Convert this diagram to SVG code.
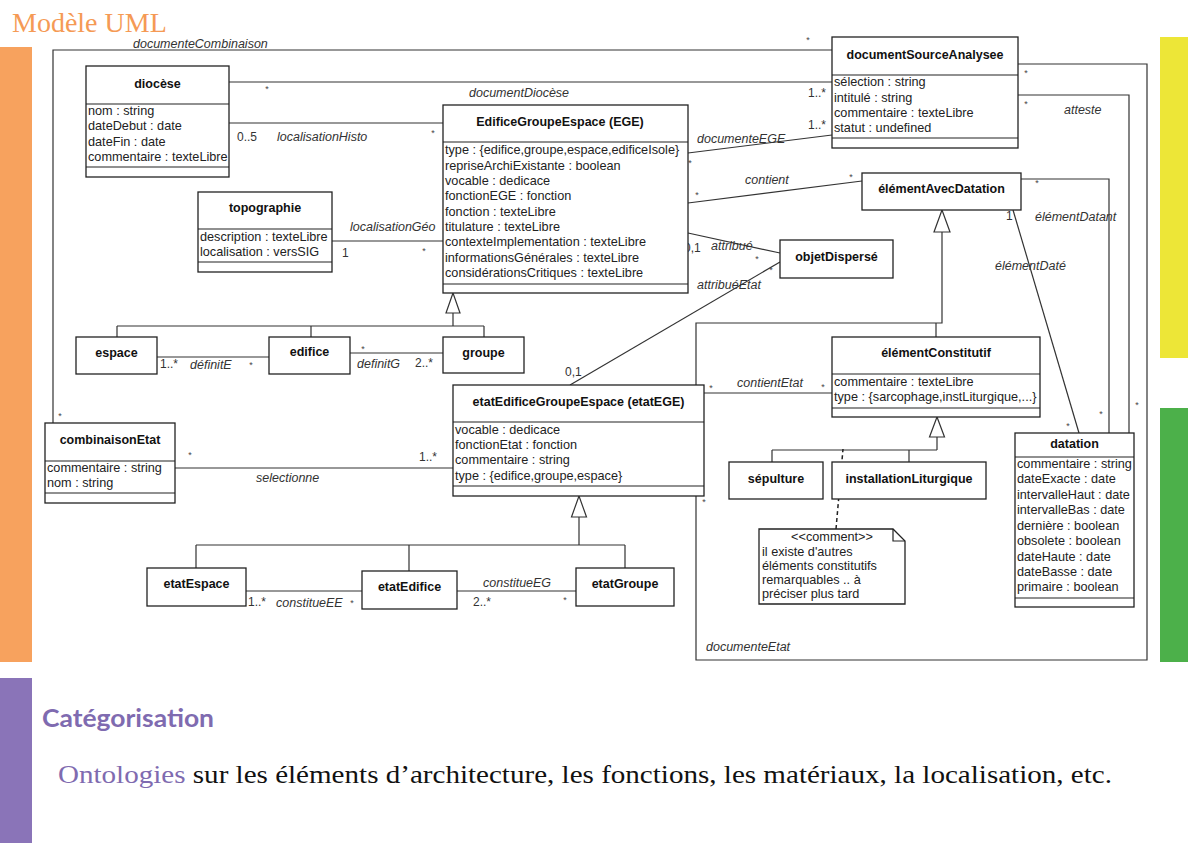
<svg xmlns="http://www.w3.org/2000/svg" width="1188" height="843" viewBox="0 0 1188 843">
<style>
.box{fill:#fff;stroke:#222;stroke-width:1.3}
.sep{stroke:#222;stroke-width:1.2;fill:none}
.ln{fill:none;stroke:#333;stroke-width:1.2}
.tri{fill:#fff;stroke:#333;stroke-width:1.2}
.nm{font-family:"Liberation Sans",Arial,sans-serif;font-weight:bold;font-size:12.5px;text-anchor:middle;fill:#111}
.at{font-family:"Liberation Sans",Arial,sans-serif;font-size:12.7px;fill:#222}
.lb{font-family:"Liberation Sans",Arial,sans-serif;font-style:italic;font-size:12.5px;fill:#333}
.mu{font-family:"Liberation Sans",Arial,sans-serif;font-size:12px;fill:#333}
.st{font-family:"Liberation Sans",Arial,sans-serif;font-size:9px;fill:#444;text-anchor:middle}
</style>
<rect width="1188" height="843" fill="#fff"/>
<!-- side bars -->
<rect x="0" y="47" width="32" height="615" fill="#F7A25E"/>
<rect x="0" y="678" width="32" height="165" fill="#8A74B8"/>
<rect x="1160" y="37" width="28" height="321" fill="#EDE637"/>
<rect x="1160" y="408" width="28" height="254" fill="#4CB04A"/>
<text x="12" y="32" font-family="Liberation Serif,Times New Roman,serif" font-size="28" fill="#F59A55">Modèle UML</text>

<g id="connectors">
  <!-- documenteCombinaison -->
  <path class="ln" d="M53 423 V50 H832"/>
  <!-- documentDiocese -->
  <path class="ln" d="M229 82 H832"/>
  <!-- localisationHisto -->
  <path class="ln" d="M229 123 H443"/>
  <!-- documenteEGE -->
  <path class="ln" d="M688 153 L832 135"/>
  <!-- contient -->
  <path class="ln" d="M688 203 L862 181"/>
  <!-- attribue -->
  <path class="ln" d="M688 233 L780 253"/>
  <!-- attribueEtat -->
  <path class="ln" d="M780 262 L570 385"/>
  <!-- localisationGeo -->
  <path class="ln" d="M332 241 H443"/>
  <!-- EGE generalization -->
  <path class="ln" d="M453 313 V326 M117 326 H484 M117 326 V337 M311 326 V337 M484 326 V337"/>
  <polygon class="tri" points="453,293 446,313 460,313"/>
  <!-- definitE / definitG -->
  <path class="ln" d="M157 357 H269"/>
  <path class="ln" d="M350 353 H443"/>
  <!-- selectionne -->
  <path class="ln" d="M175 468 H453"/>
  <!-- contientEtat -->
  <path class="ln" d="M704 393 H832"/>
  <!-- elementAvecDatation generalization -->
  <path class="ln" d="M942 232 V323 H696 V385 M936 323 V337"/>
  <polygon class="tri" points="942,210 934,232 950,232"/>
  <!-- documenteEtat -->
  <path class="ln" d="M1018 64 H1147 V660 H696 V496"/>
  <!-- atteste -->
  <path class="ln" d="M1018 95 H1129 V433"/>
  <!-- elementDatant -->
  <path class="ln" d="M1021 179 H1109 V433"/>
  <!-- elementDate -->
  <path class="ln" d="M1013 210 L1079 433"/>
  <!-- elementConstitutif generalization -->
  <path class="ln" d="M937 437 V450 M772 450 H937 M772 450 V462 M909 450 V462"/>
  <polygon class="tri" points="937,417 929.5,437 944.5,437"/>
  <!-- note link -->
  <path d="M836 529 L843 449" fill="none" stroke="#222" stroke-width="1.5" stroke-dasharray="4,3"/>
  <!-- etatEGE generalization -->
  <path class="ln" d="M579 517 V545 M196 545 H625 M196 545 V568 M409 545 V571 M625 545 V568"/>
  <polygon class="tri" points="579,496 571.5,517 586.5,517"/>
  <!-- constitueEE / EG -->
  <path class="ln" d="M246 591 H362"/>
  <path class="ln" d="M457 591 H576"/>

  <!-- labels -->
  <text class="lb" x="133" y="48">documenteCombinaison</text>
  <text class="st" x="808" y="43">*</text>
  <text class="st" x="60" y="419">*</text>
  <text class="lb" x="469" y="97">documentDiocèse</text>
  <text class="st" x="267" y="92">*</text>
  <text class="mu" x="808" y="97">1..*</text>
  <text class="mu" x="237" y="141">0..5</text>
  <text class="lb" x="277" y="141">localisationHisto</text>
  <text class="st" x="433" y="136">*</text>
  <text class="lb" x="697" y="143">documenteEGE</text>
  <text class="st" x="690" y="166">*</text>
  <text class="mu" x="808" y="129">1..*</text>
  <text class="lb" x="745" y="184">contient</text>
  <text class="st" x="697" y="198">*</text>
  <text class="st" x="851" y="180">*</text>
  <text class="mu" x="684" y="252">0,1</text>
  <text class="lb" x="711" y="250">attribué</text>
  <text class="st" x="757" y="262">*</text>
  <text class="lb" x="697" y="289">attribuéEtat</text>
  <text class="st" x="771" y="273">*</text>
  <text class="mu" x="565" y="376">0,1</text>
  <text class="lb" x="350" y="231">localisationGéo</text>
  <text class="mu" x="342" y="257">1</text>
  <text class="st" x="424" y="254">*</text>
  <text class="mu" x="160" y="368">1..*</text>
  <text class="lb" x="190" y="369">définitE</text>
  <text class="st" x="251" y="368">*</text>
  <text class="st" x="363" y="352">*</text>
  <text class="lb" x="357" y="368">definitG</text>
  <text class="mu" x="415" y="367">2..*</text>
  <text class="st" x="190" y="458">*</text>
  <text class="mu" x="419" y="461">1..*</text>
  <text class="lb" x="256" y="482">selectionne</text>
  <text class="st" x="711" y="391">*</text>
  <text class="lb" x="737" y="387">contientEtat</text>
  <text class="st" x="823" y="390">*</text>
  <text class="lb" x="706" y="651">documenteEtat</text>
  <text class="st" x="704" y="505">*</text>
  <text class="st" x="1026" y="76">*</text>
  <text class="st" x="1026" y="107">*</text>
  <text class="lb" x="1064" y="114">atteste</text>
  <text class="st" x="1101" y="417">*</text>
  <text class="st" x="1137" y="408">*</text>
  <text class="lb" x="1035" y="221">élémentDatant</text>
  <text class="st" x="1037" y="186">*</text>
  <text class="mu" x="1006" y="220">1</text>
  <text class="lb" x="995" y="270">élémentDaté</text>
  <text class="st" x="1068" y="429">*</text>
  <text class="mu" x="248" y="606">1..*</text>
  <text class="lb" x="276" y="607">constitueEE</text>
  <text class="st" x="352" y="606">*</text>
  <text class="lb" x="483" y="587">constitueEG</text>
  <text class="mu" x="473" y="606">2..*</text>
  <text class="st" x="565" y="603">*</text>
</g>

<g id="diocese">
  <rect class="box" x="86" y="66" width="143" height="111"/>
  <path class="sep" d="M86 104 H229 M86 167 H229"/>
  <text class="nm" x="157.5" y="88">diocèse</text>
  <text class="at" x="88" y="115">nom : string</text>
  <text class="at" x="88" y="130">dateDebut : date</text>
  <text class="at" x="88" y="146">dateFin : date</text>
  <text class="at" x="88" y="161">commentaire : texteLibre</text>
</g>

<g id="documentSourceAnalysee">
  <rect class="box" x="832" y="37" width="186" height="111"/>
  <path class="sep" d="M832 75 H1018 M832 138 H1018"/>
  <text class="nm" x="925" y="59">documentSourceAnalysee</text>
  <text class="at" x="834" y="86">sélection : string</text>
  <text class="at" x="834" y="102">intitulé : string</text>
  <text class="at" x="834" y="117">commentaire : texteLibre</text>
  <text class="at" x="834" y="132">statut : undefined</text>
</g>

<g id="EGE">
  <rect class="box" x="443" y="105" width="245" height="188"/>
  <path class="sep" d="M443 142 H688 M443 284 H688"/>
  <text class="nm" x="560" y="126">EdificeGroupeEspace (EGE)</text>
  <text class="at" x="445" y="154">type : {edifice,groupe,espace,edificeIsole}</text>
  <text class="at" x="445" y="170">repriseArchiExistante : boolean</text>
  <text class="at" x="445" y="185">vocable : dedicace</text>
  <text class="at" x="445" y="200">fonctionEGE : fonction</text>
  <text class="at" x="445" y="216">fonction : texteLibre</text>
  <text class="at" x="445" y="231">titulature : texteLibre</text>
  <text class="at" x="445" y="246">contexteImplementation : texteLibre</text>
  <text class="at" x="445" y="262">informationsGénérales : texteLibre</text>
  <text class="at" x="445" y="277">considérationsCritiques : texteLibre</text>
</g>

<g id="topographie">
  <rect class="box" x="198" y="192" width="134" height="80"/>
  <path class="sep" d="M198 229 H332 M198 262 H332"/>
  <text class="nm" x="265" y="212">topographie</text>
  <text class="at" x="200" y="241">description : texteLibre</text>
  <text class="at" x="200" y="256">localisation : versSIG</text>
</g>

<g id="elementAvecDatation">
  <rect class="box" x="862" y="173" width="159" height="37"/>
  <text class="nm" x="941.5" y="193">élémentAvecDatation</text>
</g>

<g id="objetDisperse">
  <rect class="box" x="780" y="240" width="113" height="38"/>
  <text class="nm" x="836.5" y="261">objetDispersé</text>
</g>

<g id="espace">
  <rect class="box" x="76" y="337" width="81" height="37"/>
  <text class="nm" x="116.5" y="357">espace</text>
</g>
<g id="edifice">
  <rect class="box" x="269" y="337" width="81" height="37"/>
  <text class="nm" x="309.5" y="356">edifice</text>
</g>
<g id="groupe">
  <rect class="box" x="443" y="337" width="81" height="36"/>
  <text class="nm" x="483.5" y="357">groupe</text>
</g>

<g id="etatEGE">
  <rect class="box" x="453" y="385" width="251" height="111"/>
  <path class="sep" d="M453 422 H704 M453 486 H704"/>
  <text class="nm" x="578.5" y="406">etatEdificeGroupeEspace (etatEGE)</text>
  <text class="at" x="455" y="434">vocable : dedicace</text>
  <text class="at" x="455" y="449">fonctionEtat : fonction</text>
  <text class="at" x="455" y="464">commentaire : string</text>
  <text class="at" x="455" y="480">type : {edifice,groupe,espace}</text>
</g>

<g id="combinaisonEtat">
  <rect class="box" x="45" y="423" width="130" height="80"/>
  <path class="sep" d="M45 461 H175 M45 493 H175"/>
  <text class="nm" x="110" y="444">combinaisonEtat</text>
  <text class="at" x="47" y="472">commentaire : string</text>
  <text class="at" x="47" y="487">nom : string</text>
</g>

<g id="elementConstitutif">
  <rect class="box" x="832" y="337" width="208" height="80"/>
  <path class="sep" d="M832 374 H1040 M832 408 H1040"/>
  <text class="nm" x="936" y="357">élémentConstitutif</text>
  <text class="at" x="834" y="386">commentaire : texteLibre</text>
  <text class="at" x="834" y="401">type : {sarcophage,instLiturgique,...}</text>
</g>

<g id="sepulture">
  <rect class="box" x="729" y="462" width="94" height="37"/>
  <text class="nm" x="776" y="483">sépulture</text>
</g>
<g id="installationLiturgique">
  <rect class="box" x="832" y="462" width="154" height="37"/>
  <text class="nm" x="909" y="483">installationLiturgique</text>
</g>

<g id="comment">
  <path class="box" d="M759 529 H893 L905 541 V604 H759 Z"/>
  <path class="sep" d="M893 529 V541 H905"/>
  <text class="at" x="832" y="541" text-anchor="middle" font-size="11.5">&lt;&lt;comment&gt;&gt;</text>
  <text class="at" x="762" y="556" font-size="11.5">il existe d'autres</text>
  <text class="at" x="762" y="570" font-size="11.5">éléments constitutifs</text>
  <text class="at" x="762" y="584" font-size="11.5">remarquables .. à</text>
  <text class="at" x="762" y="598" font-size="11.5">préciser plus tard</text>
</g>

<g id="datation">
  <rect class="box" x="1015" y="433" width="119" height="174"/>
  <path class="sep" d="M1015 457 H1134 M1015 598 H1134"/>
  <text class="nm" x="1074.5" y="448">datation</text>
  <text class="at" x="1017" y="468" font-size="12.3">commentaire : string</text>
  <text class="at" x="1017" y="483" font-size="12.3">dateExacte : date</text>
  <text class="at" x="1017" y="499" font-size="12.3">intervalleHaut : date</text>
  <text class="at" x="1017" y="514" font-size="12.3">intervalleBas : date</text>
  <text class="at" x="1017" y="530" font-size="12.3">dernière : boolean</text>
  <text class="at" x="1017" y="545" font-size="12.3">obsolete : boolean</text>
  <text class="at" x="1017" y="561" font-size="12.3">dateHaute : date</text>
  <text class="at" x="1017" y="576" font-size="12.3">dateBasse : date</text>
  <text class="at" x="1017" y="591" font-size="12.3">primaire : boolean</text>
</g>

<g id="etatEspace">
  <rect class="box" x="147" y="568" width="99" height="38"/>
  <text class="nm" x="196.5" y="588">etatEspace</text>
</g>
<g id="etatEdifice">
  <rect class="box" x="362" y="571" width="95" height="38"/>
  <text class="nm" x="409.5" y="591">etatEdifice</text>
</g>
<g id="etatGroupe">
  <rect class="box" x="576" y="568" width="98" height="38"/>
  <text class="nm" x="625" y="588">etatGroupe</text>
</g>

<text x="42" y="727" font-family="Lato,'Open Sans',sans-serif" font-weight="bold" font-size="24" textLength="172" lengthAdjust="spacingAndGlyphs" fill="#7F6BB0">Catégorisation</text>
<text x="58" y="783" font-family="'Liberation Serif','Times New Roman',serif" font-size="26" textLength="1054" lengthAdjust="spacingAndGlyphs" fill="#111"><tspan fill="#7F6BB0">Ontologies</tspan> sur les éléments d’architecture, les fonctions, les matériaux, la localisation, etc.</text>
</svg>
